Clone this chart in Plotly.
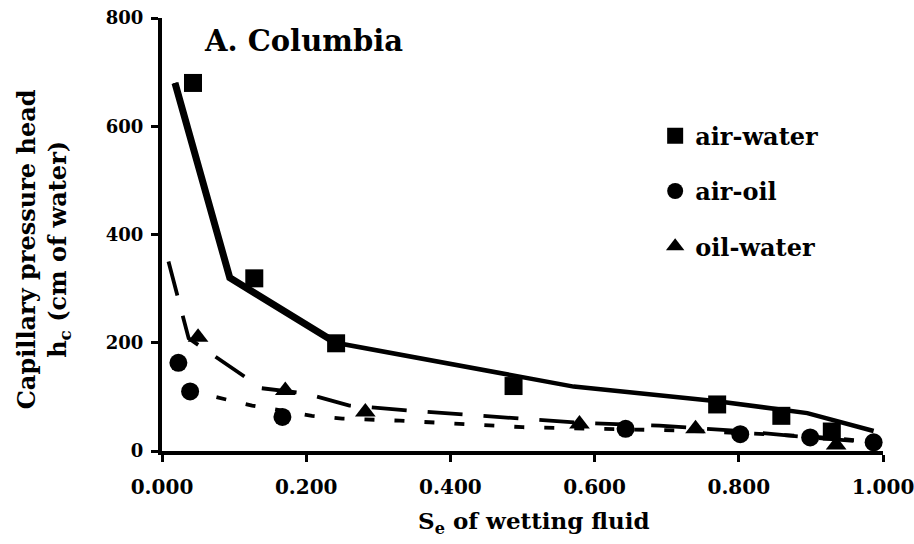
import plotly.graph_objects as go

# Measured capillary pressure head (cm of water) vs effective saturation
aw_se = [0.043, 0.128, 0.2415, 0.4876, 0.770, 0.859, 0.929]
aw_h = [680, 319, 199, 120, 86, 65, 36]

ao_se = [0.0227, 0.039, 0.167, 0.643, 0.802, 0.899, 0.987]
ao_h = [163, 110, 63, 41, 31, 25, 16]

ow_se = [0.050, 0.171, 0.282, 0.579, 0.740, 0.935]
ow_h = [210, 112, 72, 50, 41, 11]

# Fitted retention curves
aw_fit_se = [0.018, 0.094, 0.241, 0.571, 0.770, 0.895, 0.987]
aw_fit_h = [680, 320, 200, 119, 92, 70, 37]

ao_fit_se = [0.035, 0.125, 0.208, 0.25, 0.33, 0.50, 0.64, 0.72, 0.84, 0.90, 0.987]
ao_fit_h = [112, 84, 65, 60, 56, 44, 40, 38, 31, 27, 17]

ow_fit_se = [0.009, 0.037, 0.138, 0.20, 0.26, 0.34, 0.58, 0.69, 0.80, 0.89, 0.987]
ow_fit_h = [350, 208, 116, 106, 84, 75, 52, 47, 37, 26, 16]

x_ticks = [0.0, 0.2, 0.4, 0.6, 0.8, 1.0]
y_ticks = [0, 200, 400, 600, 800]

FONT = "DejaVu Serif"
BLACK = "#000000"


def bold(s):
    return f"<b>{s}</b>"


fig = go.Figure()

# fitted curves
fig.add_trace(go.Scatter(x=aw_fit_se, y=aw_fit_h, mode="lines",
                         line=dict(color=BLACK, width=4.5), showlegend=False,
                         hoverinfo="skip"))
fig.add_trace(go.Scatter(x=aw_fit_se[:3], y=aw_fit_h[:3], mode="lines",
                         line=dict(color=BLACK, width=7), showlegend=False,
                         hoverinfo="skip"))
fig.add_trace(go.Scatter(x=ow_fit_se, y=ow_fit_h, mode="lines",
                         line=dict(color=BLACK, width=3.8, dash="35px,21px"),
                         showlegend=False, hoverinfo="skip"))
fig.add_trace(go.Scatter(x=ao_fit_se, y=ao_fit_h, mode="lines",
                         line=dict(color=BLACK, width=3.8, dash="10px,20px"),
                         showlegend=False, hoverinfo="skip"))

# measured points
fig.add_trace(go.Scatter(x=aw_se, y=aw_h, mode="markers", name=bold("air-water"),
                         legendgroup="aw",
                         marker=dict(symbol="square", size=18, color=BLACK),
                         cliponaxis=False))
fig.add_trace(go.Scatter(x=ao_se, y=ao_h, mode="markers", name=bold("air-oil"),
                         legendgroup="ao",
                         marker=dict(symbol="circle", size=18, color=BLACK),
                         cliponaxis=False))
fig.add_trace(go.Scatter(x=ow_se, y=ow_h, mode="markers", name=bold("oil-water"),
                         legendgroup="ow",
                         marker=dict(symbol="triangle-up", size=18, color=BLACK),
                         cliponaxis=False))

axis_common = dict(
    showline=True, linecolor=BLACK, linewidth=4,
    ticks="outside", ticklen=7, tickwidth=3, tickcolor=BLACK,
    showgrid=False, zeroline=False, automargin=False,
    ticklabeloverflow="allow",
)

fig.update_xaxes(range=[0, 1.0], tickvals=x_ticks,
                 ticktext=[bold(f"{v:.3f}") for v in x_ticks],
                 tickfont=dict(family=FONT, size=20, color=BLACK),
                 ticklabelstandoff=8,
                 **axis_common)
fig.update_yaxes(range=[0, 800], tickvals=y_ticks,
                 ticktext=[bold(v) for v in y_ticks],
                 tickfont=dict(family=FONT, size=18, color=BLACK),
                 ticklabelstandoff=4,
                 **axis_common)

PLOT_L, PLOT_R = 162, 31
plot_w = 914 - PLOT_L - PLOT_R

fig.update_layout(
    width=914, height=544,
    margin=dict(l=PLOT_L, r=PLOT_R, t=18, b=93),
    paper_bgcolor="white", plot_bgcolor="white",
    font=dict(family=FONT, color=BLACK),
    showlegend=True,
    legend=dict(x=0.684, y=0.779, xanchor="left", yanchor="top",
                font=dict(family=FONT, size=24, color=BLACK),
                traceorder="grouped", tracegroupgap=21,
                bgcolor="rgba(0,0,0,0)", borderwidth=0),
    annotations=[
        dict(text=bold("A. Columbia"), x=0.055, y=0.947,
             xref="paper", yref="paper",
             xanchor="left", yanchor="middle", showarrow=False,
             font=dict(family=FONT, size=29, color=BLACK)),
        dict(text=bold("S<sub>e</sub> of wetting fluid"),
             x=(534 - PLOT_L) / plot_w, y=-0.165,
             xref="paper", yref="paper",
             xanchor="center", yanchor="middle", showarrow=False,
             font=dict(family=FONT, size=23, color=BLACK)),
        dict(text=bold("Capillary pressure head<br>h<sub>c</sub> (cm of water)"),
             x=-0.165, y=0.466, xref="paper", yref="paper",
             xanchor="center", yanchor="middle", textangle=-90, showarrow=False,
             font=dict(family=FONT, size=24, color=BLACK)),
    ],
)

fig.write_html("out.html")
